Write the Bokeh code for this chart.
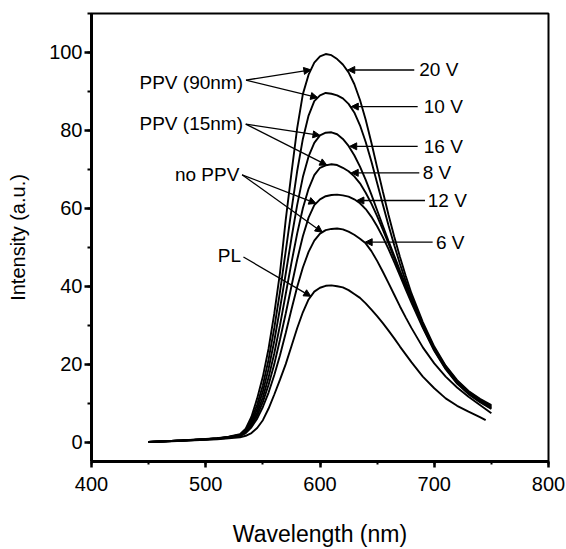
import numpy as np
from bokeh.plotting import figure
from bokeh.models import Arrow, NormalHead, Label, SingleIntervalTicker, Range1d
from bokeh.embed import file_html
from bokeh.resources import INLINE

# ---------------- data ----------------
wavelength = [450, 460, 470, 480, 490, 500, 510, 520,
              530, 535, 540, 545, 550, 555, 560, 565, 570, 575, 580, 585,
              590, 595, 600, 605, 610, 615, 620, 625, 630, 635, 640, 645,
              650, 655, 660, 665, 670, 675, 680,
              690, 700, 710, 720, 730, 740, 750]
wavelength_pl = [450, 460, 470, 480, 490, 500, 510, 520,
                 530, 535, 540, 545, 550, 555, 560, 565, 570, 575, 580, 585,
                 590, 595, 600, 605, 610, 615, 620, 625, 630, 635, 640, 645,
                 650, 655, 660, 665, 670, 675, 680,
                 690, 700, 710, 720, 730, 740, 745]

el_20v = [0.0, 0.15, 0.3, 0.45, 0.6, 0.8, 1.0, 1.35,
          2.0, 3.4, 6.5, 11.2, 16.8, 24.0, 33.0, 43.5, 57.0, 69.0, 80.5, 89.3,
          94.3, 97.4, 99.0, 99.6, 99.3, 98.3, 96.9, 94.9, 91.9, 87.8, 82.7, 76.8,
          70.5, 64.3, 58.3, 52.7, 47.5, 42.7, 38.2,
          30.8, 24.5, 19.6, 15.9, 13.1, 11.1, 9.5]
el_10v = [0.0, 0.15, 0.3, 0.45, 0.6, 0.75, 0.95, 1.3,
          1.9, 3.1, 5.7, 9.6, 14.6, 21.2, 29.3, 38.6, 49.0, 59.5, 69.5, 77.8,
          83.8, 87.5, 89.0, 89.6, 89.4, 89.0, 88.2, 86.8, 84.6, 81.3, 77.0, 72.0,
          66.5, 61.0, 55.6, 50.5, 45.7, 41.3, 37.3,
          30.2, 24.1, 19.3, 15.7, 12.9, 10.9, 9.2]
el_16v = [0.0, 0.14, 0.28, 0.42, 0.57, 0.72, 0.92, 1.25,
          1.8, 2.9, 5.1, 8.5, 13.0, 18.8, 26.0, 34.3, 43.2, 52.3, 60.8, 68.0,
          73.3, 76.8, 78.7, 79.4, 79.5, 79.0, 77.8, 76.0, 73.6, 70.7, 67.3, 63.5,
          59.5, 55.5, 51.6, 47.8, 44.0, 40.3, 36.8,
          29.9, 23.9, 19.1, 15.5, 12.7, 10.7, 9.0]
el_8v = [0.0, 0.13, 0.26, 0.4, 0.55, 0.7, 0.9, 1.2,
         1.7, 2.7, 4.6, 7.6, 11.5, 16.6, 22.8, 30.0, 38.0, 46.0, 53.5, 60.0,
         65.0, 68.5, 70.4, 71.0, 71.3, 71.1, 70.4, 69.5, 68.2, 66.4, 64.0, 61.2,
         58.0, 54.5, 50.9, 47.2, 43.5, 39.9, 36.4,
         29.6, 23.6, 18.9, 15.2, 12.5, 10.4, 8.7]
el_12v = [0.0, 0.12, 0.25, 0.38, 0.52, 0.67, 0.86, 1.15,
          1.6, 2.5, 4.2, 6.8, 10.3, 14.7, 20.0, 26.3, 33.0, 40.0, 46.8, 52.8,
          57.6, 60.8, 62.3, 63.1, 63.4, 63.5, 63.3, 63.0, 62.3, 61.3, 59.8, 57.8,
          55.4, 52.6, 49.5, 46.2, 42.7, 39.2, 35.8,
          29.3, 23.4, 18.7, 15.0, 12.3, 10.2, 8.5]
el_6v = [0.0, 0.12, 0.24, 0.36, 0.5, 0.64, 0.82, 1.1,
         1.5, 2.3, 3.8, 6.0, 9.0, 12.7, 17.2, 22.3, 28.0, 34.0, 39.8, 44.8,
         48.8, 51.7, 53.5, 54.4, 54.7, 54.8, 54.6, 54.0, 53.2, 52.2, 51.0, 49.0,
         46.5, 43.7, 40.8, 37.8, 34.8, 32.0, 29.3,
         24.3, 20.2, 16.8, 14.0, 11.6, 9.5, 7.4]
pl = [0.0, 0.1, 0.2, 0.3, 0.42, 0.55, 0.7, 0.95,
      1.2, 1.6, 2.3, 3.6, 5.6, 8.6, 12.2, 16.0, 20.0, 24.6, 29.2, 33.3,
      36.6, 38.6, 39.6, 40.1, 40.2, 40.0, 39.7, 39.0, 38.0, 37.0, 35.6, 34.0,
      32.3, 30.5, 28.6, 26.6, 24.5, 22.5, 20.5,
      16.8, 13.8, 11.2, 9.3, 7.8, 6.4, 5.6]

x_ticks_interval = 100
y_ticks_interval = 20

# ---------------- figure ----------------
FONT = "Liberation Sans"
p = figure(width=566, height=549, x_range=Range1d(400, 800), y_range=Range1d(-5, 110),
           output_backend="svg", toolbar_location=None,
           min_border_left=91, min_border_right=18, min_border_top=13, min_border_bottom=84)
p.xgrid.visible = False
p.ygrid.visible = False
p.background_fill_color = "white"
p.border_fill_color = "white"
p.outline_line_color = "black"
p.outline_line_width = 2
p.outline_line_alpha = 1.0

p.xaxis.ticker = SingleIntervalTicker(interval=x_ticks_interval, num_minor_ticks=2)
p.yaxis.ticker = SingleIntervalTicker(interval=y_ticks_interval, num_minor_ticks=2)
p.xaxis.axis_label = "Wavelength (nm)"
p.yaxis.axis_label = "Intensity (a.u.)"

for ax in (p.xaxis[0], p.yaxis[0]):
    ax.axis_line_width = 3
    ax.axis_line_color = "black"
    ax.major_tick_in = 0
    ax.minor_tick_in = 0
    ax.major_tick_line_width = 2.5
    ax.minor_tick_line_width = 2
    ax.major_tick_line_color = "black"
    ax.minor_tick_line_color = "black"
    ax.major_label_text_font = FONT
    ax.major_label_text_font_size = "20px"
    ax.major_label_text_color = "black"
    ax.axis_label_text_font = FONT
    ax.axis_label_text_font_style = "normal"
    ax.axis_label_text_color = "black"

p.yaxis.major_tick_out = 7
p.yaxis.minor_tick_out = 4
p.yaxis.major_label_standoff = 2
p.yaxis.axis_label_text_font_size = "20px"
p.yaxis.axis_label_standoff = 17

p.xaxis.major_tick_out = 6
p.xaxis.minor_tick_out = 3
p.xaxis.major_label_standoff = 9
p.xaxis.axis_label_text_font_size = "23px"
p.xaxis.axis_label_standoff = 27

series = {
    "20V": (wavelength, el_20v), "10V": (wavelength, el_10v), "16V": (wavelength, el_16v),
    "8V": (wavelength, el_8v), "12V": (wavelength, el_12v), "6V": (wavelength, el_6v),
    "PL": (wavelength_pl, pl),
}
for name, (xs, ys) in series.items():
    p.line(xs, ys, line_color="black", line_width=1.9)

def head():
    return NormalHead(size=7, fill_color="black", line_color="black", line_width=1)

# ---------------- left annotations ----------------
left_labels = [
    ("PPV (90nm)", 532.6, 92.4, 535.2, 92.9, [("20V", 592), ("10V", 598)]),
    ("PPV (15nm)", 532.6, 81.7, 535.0, 81.6, [("16V", 600), ("8V", 606)]),
    ("no PPV", 529.4, 68.8, 531.8, 68.6, [("12V", 596.5), ("6V", 602)]),
    ("PL", 530.9, 47.8, 533.0, 47.5, [("PL", 592)]),
]
for text, lx, ly, sx, sy, targets in left_labels:
    p.add_layout(Label(x=lx, y=ly, text=text, text_align="right", text_baseline="middle",
                       text_font=FONT, text_font_size="19px", text_color="black"))
    for key, tx in targets:
        xs, ys = series[key]
        ty = float(np.interp(tx, xs, ys))
        p.add_layout(Arrow(x_start=sx, y_start=sy, x_end=tx, y_end=ty, end=head(),
                           line_color="black", line_width=1.3))

# ---------------- right annotations ----------------
right_labels = [
    ("20 V", "20V", 686.9, 682.5, 95.5),
    ("10 V", "10V", 690.8, 685.5, 86.1),
    ("16 V", "16V", 690.8, 685.5, 75.9),
    ("8 V", "8V", 689.9, 686.9, 69.1),
    ("12 V", "12V", 694.3, 691.9, 62.0),
    ("6 V", "6V", 701.5, 698.6, 51.3),
]
for text, key, lx, sx, ly in right_labels:
    xs, ys = series[key]
    xs = np.asarray(xs, float); ys = np.asarray(ys, float)
    k = int(np.argmax(ys))
    tx = float(np.interp(ly, ys[k:][::-1], xs[k:][::-1]))
    p.add_layout(Label(x=lx, y=ly, text=text, text_align="left", text_baseline="middle",
                       text_font=FONT, text_font_size="19px", text_color="black"))
    p.add_layout(Arrow(x_start=sx, y_start=ly, x_end=tx + 0.8, y_end=ly, end=head(),
                       line_color="black", line_width=1.3))

open("out.html", "w").write(file_html(p, INLINE))
